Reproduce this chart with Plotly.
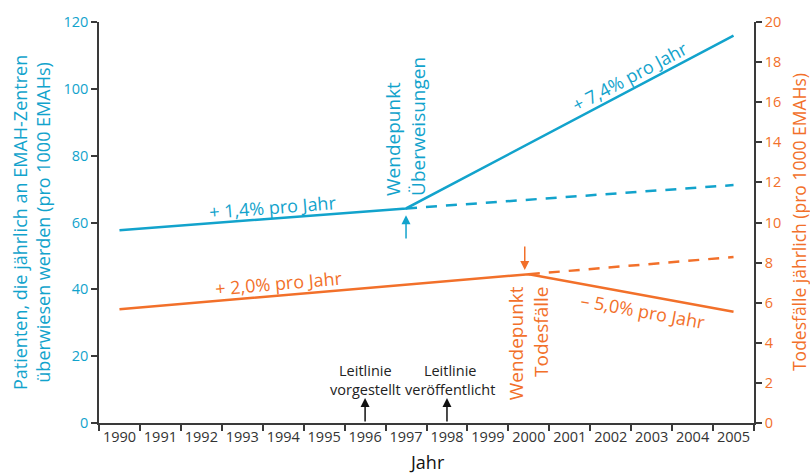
import plotly.graph_objects as go

# ---- data ----
years = list(range(1990, 2006))
year_labels = [str(y) for y in years]

referral_x = [1990, 1997, 2005]
referral_y = [57.7, 64.2, 115.9]          # left axis
referral_trend_x = [1997, 2005]
referral_trend_y = [64.2, 71.2]

death_x = [1990, 2000, 2005]
death_y = [5.67, 7.42, 5.55]              # right axis
death_trend_x = [2000, 2005]
death_trend_y = [7.42, 8.28]

left_ticks = [0, 20, 40, 60, 80, 100, 120]
right_ticks = list(range(0, 21, 2))

BLUE = "#12a3cc"
ORANGE = "#f2702a"
AX = "#3a3a3a"
FONT = "Open Sans"

fig = go.Figure()
fig.add_trace(go.Scatter(x=referral_x, y=referral_y, mode="lines",
                         line=dict(color=BLUE, width=2.5), yaxis="y", showlegend=False))
fig.add_trace(go.Scatter(x=referral_trend_x, y=referral_trend_y, mode="lines",
                         line=dict(color=BLUE, width=2.5, dash="11px,9px"), yaxis="y", showlegend=False))
fig.add_trace(go.Scatter(x=death_x, y=death_y, mode="lines",
                         line=dict(color=ORANGE, width=2.5), yaxis="y2", showlegend=False))
fig.add_trace(go.Scatter(x=death_trend_x, y=death_trend_y, mode="lines",
                         line=dict(color=ORANGE, width=2.5, dash="11px,9px"), yaxis="y2", showlegend=False))

ann = []
# slanted rate labels
ann.append(dict(x=1993.74, y=64.6, xref="x", yref="y", text="+ 1,4% pro Jahr", showarrow=False,
                textangle=-4.4, font=dict(color=BLUE, size=18, family=FONT)))
ann.append(dict(x=1993.89, y=41.9, xref="x", yref="y", text="+ 2,0% pro Jahr", showarrow=False,
                textangle=-4.9, font=dict(color=ORANGE, size=18, family=FONT)))
ann.append(dict(x=2002.48, y=103.8, xref="x", yref="y", text="+ 7,4% pro Jahr", showarrow=False,
                textangle=-27.8, font=dict(color=BLUE, size=18, family=FONT)))
ann.append(dict(x=2002.79, y=33.5, xref="x", yref="y", text="\u2013 5,0% pro Jahr", showarrow=False,
                textangle=10.4, font=dict(color=ORANGE, size=18, family=FONT)))
# turning point labels
ann.append(dict(x=1997.0, y=88.6, xref="x", yref="y", text="Wendepunkt<br>Überweisungen",
                showarrow=False, textangle=-90, align="left",
                font=dict(color=BLUE, size=19, family=FONT)))
ann.append(dict(x=2000.0, y=23.8, xref="x", yref="y", text="Wendepunkt<br>Todesfälle",
                showarrow=False, textangle=-90, align="right",
                font=dict(color=ORANGE, size=19, family=FONT)))
# guideline labels
ann.append(dict(x=1996.0, y=12.9, xref="x", yref="y", text="Leitlinie<br>vorgestellt",
                showarrow=False, font=dict(color="#222", size=14.5, family=FONT)))
ann.append(dict(x=1998.08, y=12.9, xref="x", yref="y", text="Leitlinie<br>veröffentlicht",
                showarrow=False, font=dict(color="#222", size=14.5, family=FONT)))
# arrows
for xv in (1996, 1998):
    ann.append(dict(x=xv, y=7.5, ax=xv, ay=0, xref="x", yref="y", axref="x", ayref="y",
                    text="", showarrow=True, arrowhead=2, arrowsize=1.2, arrowwidth=1.5,
                    arrowcolor="#111"))
ann.append(dict(x=1997.0, y=62.2, ax=1997.0, ay=54.8, xref="x", yref="y", axref="x", ayref="y",
                text="", showarrow=True, arrowhead=2, arrowsize=1.2, arrowwidth=1.5, arrowcolor=BLUE))
ann.append(dict(x=1999.9, y=7.63, ax=1999.9, ay=8.88, xref="x", yref="y2", axref="x", ayref="y2",
                text="", showarrow=True, arrowhead=2, arrowsize=1.2, arrowwidth=1.5, arrowcolor=ORANGE))
# axis titles
ann.append(dict(x=-0.103, y=0.5, xref="paper", yref="paper", xanchor="center", yanchor="middle",
                text="Patienten, die jährlich an EMAH-Zentren<br>überwiesen werden (pro 1000 EMAHs)",
                showarrow=False, textangle=-90, font=dict(color=BLUE, size=18, family=FONT)))
ann.append(dict(x=1.068, y=0.5, xref="paper", yref="paper", xanchor="center", yanchor="middle",
                text="Todesfälle jährlich (pro 1000 EMAHs)",
                showarrow=False, textangle=-90, font=dict(color=ORANGE, size=17.5, family=FONT)))
ann.append(dict(x=0.5, y=-0.097, xref="paper", yref="paper", xanchor="center", yanchor="middle",
                text="Jahr", showarrow=False, font=dict(color="#111", size=18, family=FONT)))

fig.update_layout(
    width=810, height=474,
    margin=dict(l=99, r=56, t=22, b=51),
    plot_bgcolor="white", paper_bgcolor="white",
    font=dict(family=FONT, size=13, color="#333"),
    showlegend=False,
    annotations=ann,
    xaxis=dict(range=[1989.5, 2005.5], tickmode="array", tickvals=years, ticktext=year_labels,
               ticks="", showgrid=False, zeroline=False, showline=True, linecolor=AX, linewidth=1.5,
               tickfont=dict(size=14.5, color="#333"),
               minor=dict(tickmode="array", tickvals=[y - 0.5 for y in years] + [years[-1] + 0.5],
                          ticks="outside", ticklen=6, tickcolor=AX, tickwidth=1.5, showgrid=False)),
    yaxis=dict(range=[0, 120], tickmode="array", tickvals=left_ticks, ticks="outside", ticklen=6,
               tickcolor=AX, tickwidth=1.5, showgrid=False, zeroline=False, showline=True,
               linecolor=AX, linewidth=1.5, tickfont=dict(size=14.5, color=BLUE)),
    yaxis2=dict(range=[0, 20], tickmode="array", tickvals=right_ticks, ticks="outside", ticklen=6,
                tickcolor=AX, tickwidth=1.5, showgrid=False, zeroline=False, showline=True,
                linecolor=AX, linewidth=1.5, overlaying="y", side="right",
                tickfont=dict(size=14.5, color=ORANGE)),
)

fig.write_html("out.html", config={"displayModeBar": False},
               post_script="document.body.style.margin='0';")
